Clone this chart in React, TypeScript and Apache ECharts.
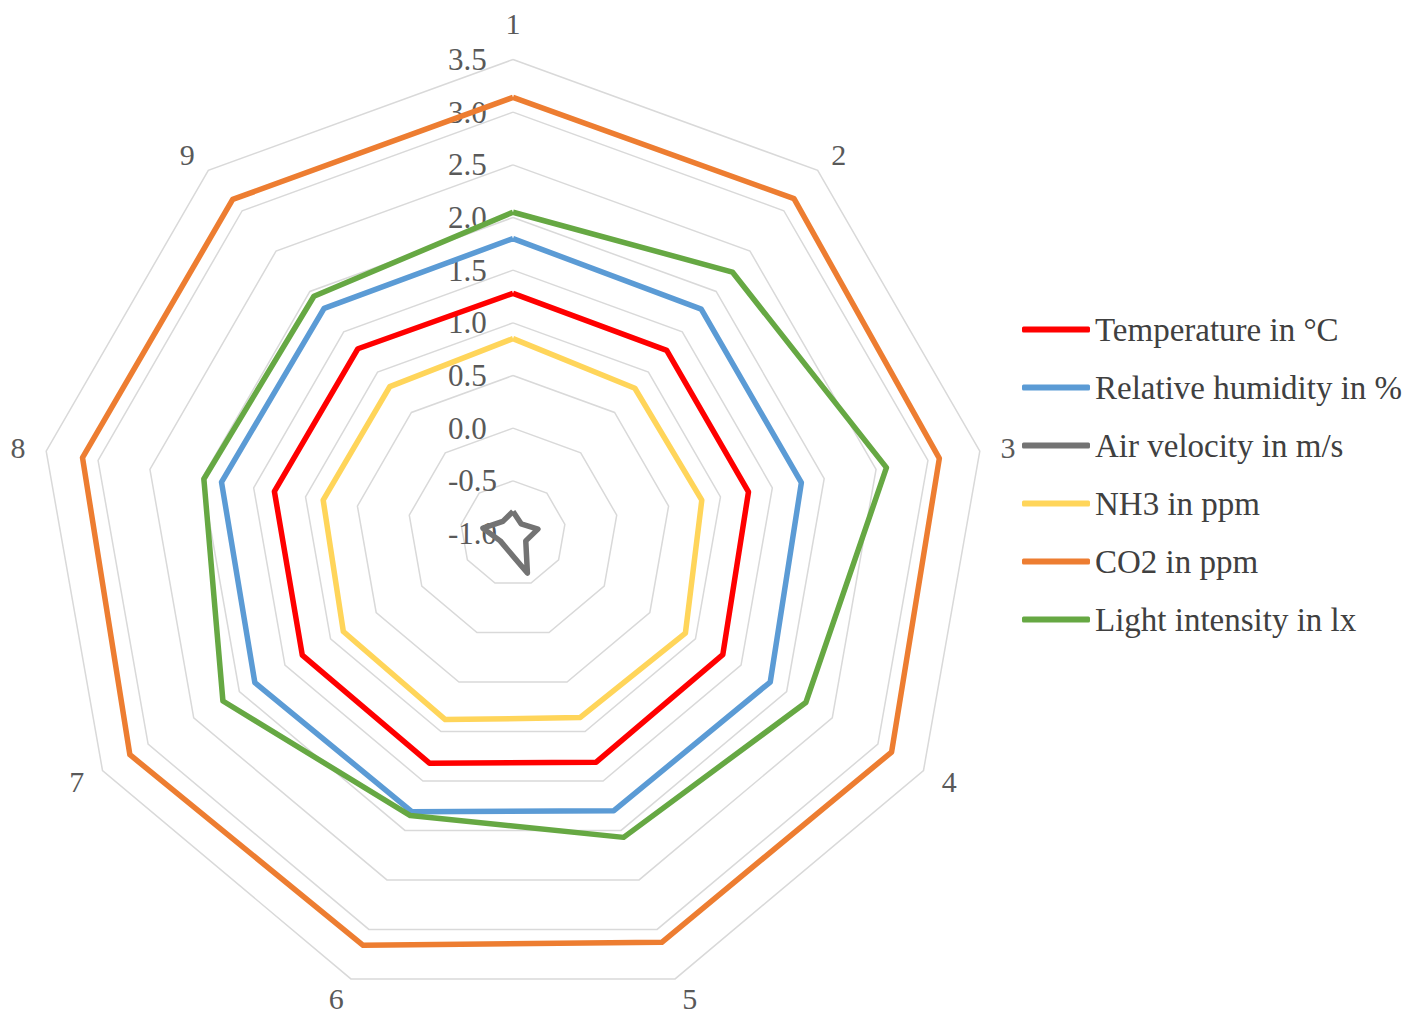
import React, { useEffect, useRef } from "react";
import * as echarts from "echarts";

const axisNames = ["1", "2", "3", "4", "5", "6", "7", "8", "9"];
const tickMin = -1.0;
const tickMax = 3.5;
const tickCount = 9;

const seriesNames = [
  "Temperature in °C",
  "Relative humidity in %",
  "Air velocity in m/s",
  "NH3 in ppm",
  "CO2 in ppm",
  "Light intensity in lx",
];

const temperature = [1.28, 1.27, 1.27, 1.30, 1.31, 1.32, 1.31, 1.30, 1.29];
const humidity = [1.80, 1.78, 1.78, 1.82, 1.80, 1.81, 1.83, 1.81, 1.79];
const airVelocity = [-0.79, -0.88, -0.76, -0.86, -0.6, -0.84, -0.86, -0.71, -0.85];
const nh3 = [0.85, 0.80, 0.82, 0.89, 0.86, 0.88, 0.86, 0.83, 0.82];
const co2 = [3.14, 3.15, 3.11, 3.15, 3.13, 3.16, 3.20, 3.15, 3.14];
const light = [2.05, 2.24, 2.60, 2.21, 2.07, 1.85, 2.18, 1.98, 1.94];

const seriesColors = ["#FF0000", "#5B9BD5", "#737373", "#FFD55A", "#ED7D31", "#66A843"];

export default function App() {
  const ref = useRef<HTMLDivElement>(null);

  useEffect(() => {
    document.body.style.margin = "0";
    const chart = echarts.init(ref.current as HTMLDivElement, null, { renderer: "svg" });
    const values = [temperature, humidity, airVelocity, nh3, co2, light];
    // ECharts places radar indicators counter-clockwise; reorder so they run clockwise.
    const order = [0, ...axisNames.map((_, i) => i).slice(1).reverse()];
    const font = "'Liberation Serif', 'Times New Roman', serif";

    chart.setOption({
      animation: false,
      backgroundColor: "#ffffff",
      legend: {
        orient: "vertical",
        left: 1017,
        top: 308,
        itemWidth: 68,
        itemHeight: 6,
        itemGap: 25,
        icon: "roundRect",
        data: seriesNames,
        textStyle: { fontFamily: font, fontSize: 33, color: "#404040" },
      },
      radar: {
        center: [513, 533.5],
        radius: 474,
        startAngle: 90,
        splitNumber: tickCount,
        shape: "polygon",
        indicator: order.map((i, k) => ({
          name: axisNames[i],
          min: tickMin,
          max: tickMax,
          ...(k === 0 ? { axisLabel: { show: true } } : {}),
        })),
        nameGap: 21,
        axisName: { color: "#595959", fontSize: 30, fontFamily: font },
        axisLine: { show: false },
        axisTick: { show: false },
        axisLabel: {
          show: false,
          formatter: (v: number) => Number(v).toFixed(1),
          color: "#595959",
          fontSize: 31,
          fontFamily: font,
          margin: 65,
          align: "left",
        },
        splitLine: { lineStyle: { color: "#d9d9d9", width: 1.5 } },
        splitArea: { show: false },
      },
      series: seriesNames.map((name, s) => ({
        type: "radar",
        name,
        symbol: "none",
        lineStyle: { color: seriesColors[s], width: 5.5 },
        itemStyle: { color: seriesColors[s] },
        data: [{ name, value: order.map((i) => values[s][i]) }],
      })),
    });

    return () => chart.dispose();
  }, []);

  return <div ref={ref} style={{ width: 1418, height: 1019 }} />;
}
